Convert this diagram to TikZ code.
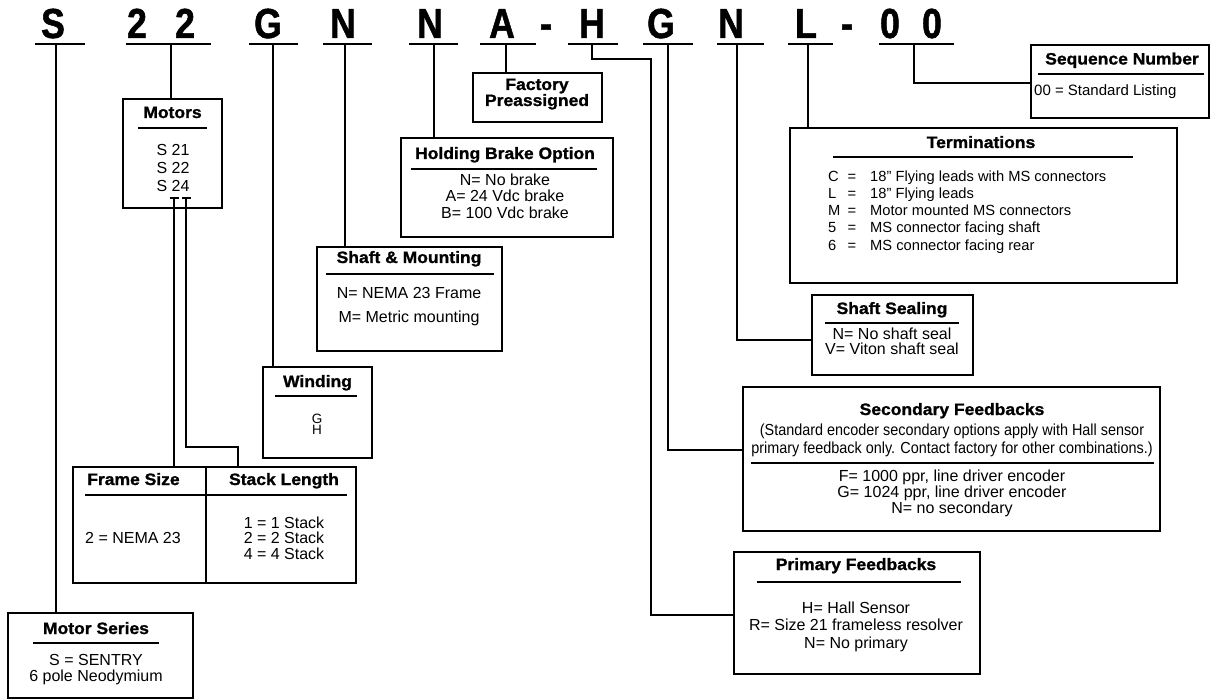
\documentclass[tikz,border=0pt]{standalone}
\usepackage{fontspec}
\setmainfont{Liberation Sans}
\newfontfamily\codefont[FakeStretch=0.85,FakeBold=1.2]{Liberation Sans}
\newfontfamily\headfont[FakeStretch=1.06,FakeBold=1.2]{Liberation Sans}
\newfontfamily\condfont[FakeStretch=0.9]{Liberation Sans}
\begin{document}
\begin{tikzpicture}[x=1pt,y=-1pt,
  box/.style={draw, line width=1.3pt, anchor=north west, inner sep=0pt, outer sep=0pt},
  code/.style={anchor=base, inner sep=0pt, font=\codefont\bfseries\fontsize{42}{42}\selectfont},
  head/.style={anchor=base, inner sep=0pt, font=\headfont\bfseries\fontsize{16.5}{17}\selectfont},
  body/.style={anchor=base, inner sep=0pt, font=\fontsize{16}{17}\selectfont},
  tbody/.style={anchor=base west, inner sep=0pt, font=\fontsize{14.7}{17}\selectfont},
  cond/.style={anchor=base, inner sep=0pt, font=\condfont\fontsize{16}{17}\selectfont},
  small/.style={anchor=base, inner sep=0pt, font=\fontsize{13.5}{13.5}\selectfont},
  uline/.style={line width=1.8pt},
  conn/.style={line width=1.2pt},
  rulel/.style={line width=1.4pt}
]
\fill[white] (0,0) rectangle (1217,700);
\useasboundingbox (0,0) rectangle (1217,700);

% ---------- code letters ----------
\node[code] (cS)  at (53,38)  {S};
\node[code] (c2a) at (137,38) {2};
\node[code] (c2b) at (185,38) {2};
\node[code] (cG)  at (268,38) {G};
\node[code] (cN)  at (343,38) {N};
\node[code] (cN2) at (430,38) {N};
\node[code] (cA)  at (502,38) {A};
\node[code] (cd1) at (546,38) {-};
\node[code] (cH)  at (592,38) {H};
\node[code] (cG2) at (661,38) {G};
\node[code] (cN3) at (731,38) {N};
\node[code] (cL)  at (806,38) {L};
\node[code] (cd2) at (847,38) {-};
\node[code] (c0a) at (890,38) {0};
\node[code] (c0b) at (932,38) {0};

% underlines
\draw[uline] (35,44) -- (85,44);
\draw[uline] (126,44) -- (211,44);
\draw[uline] (249,44) -- (298,44);
\draw[uline] (323,44) -- (372,44);
\draw[uline] (409,44) -- (458,44);
\draw[uline] (480,44) -- (536,44);
\draw[uline] (568,44) -- (618,44);
\draw[uline] (643,44) -- (693,44);
\draw[uline] (717,44) -- (764,44);
\draw[uline] (788,44) -- (833,44);
\draw[uline] (879,44) -- (954,44);

\coordinate (uS) at (56,44);
\coordinate (u22) at (171,44);
\coordinate (uG) at (273,44);
\coordinate (uN) at (345,44);
\coordinate (uN2) at (434,44);
\coordinate (uA) at (506,44);
\coordinate (uH) at (592,44);
\coordinate (uG2) at (668,44);
\coordinate (uN3) at (737,44);
\coordinate (uL) at (808,44);
\coordinate (u00) at (914,44);

% ---------- boxes ----------
\node[box, minimum width=99pt, minimum height=109pt] (motors) at (123,99) {};
\node[box, minimum width=129pt, minimum height=49pt] (factory) at (473,73) {};
\node[box, minimum width=212pt, minimum height=99pt] (holding) at (401,138) {};
\node[box, minimum width=185pt, minimum height=104pt] (shaftmt) at (317,247) {};
\node[box, minimum width=109pt, minimum height=91pt] (winding) at (263,367) {};
\node[box, minimum width=283pt, minimum height=116pt] (fs) at (73,467) {};
\node[box, minimum width=185pt, minimum height=85pt] (series) at (8,613) {};
\node[box, minimum width=178pt, minimum height=73pt] (seq) at (1031,45) {};
\node[box, minimum width=387pt, minimum height=155pt] (term) at (790,128) {};
\node[box, minimum width=161pt, minimum height=80pt] (seal) at (812,295) {};
\node[box, minimum width=417pt, minimum height=144pt] (sec) at (743,387) {};
\node[box, minimum width=246pt, minimum height=122pt] (prim) at (734,552) {};
\draw[line width=1.3pt] (fs.north west -| 206,0) -- (fs.south west -| 206,0);

% ---------- Motors ----------
\node[head] (tmot) at (172.5,118) {Motors};
\draw[rulel] (138,128) -- (207,128);
\node[body] (m1) at (173,155.5) {S 21};
\node[body] (m2) at (173,173.5) {S 22};
\node[body] (m3) at (173,192) {S 24};

% ---------- Factory ----------
\node[head] (tfac1) at (537,90) {Factory};
\node[head] (tfac2) at (537,106) {Preassigned};

% ---------- Holding brake ----------
\node[head] (thold) at (505,159) {Holding Brake Option};
\draw[rulel] (411,169) -- (597,169);
\node[body] (h1) at (505,185.5) {N= No brake};
\node[body] (h2) at (505,202) {A= 24 Vdc brake};
\node[body] (h3) at (505,218.5) {B= 100 Vdc brake};

% ---------- Shaft & Mounting ----------
\node[head] (tsm) at (409,263) {Shaft \& Mounting};
\draw[rulel] (326,274) -- (494,274);
\node[body] (sm1) at (409,299) {N= NEMA 23 Frame};
\node[body] (sm2) at (409,322.5) {M= Metric mounting};

% ---------- Winding ----------
\node[head] (twin) at (317.5,387) {Winding};
\draw[rulel] (275,396) -- (357,396);
\node[small] (wg) at (317,423) {G};
\node[small] (wh) at (317,434.5) {H};

% ---------- Frame / Stack ----------
\node[head] (tfr) at (133.5,485) {Frame Size};
\node[head] (tst) at (284,485) {Stack Length};
\draw[rulel] (85,495) -- (347,495);
\node[body, anchor=base west] (fr1) at (85,543.5) {2 = NEMA 23};
\node[body] (st1) at (284,528) {1 = 1 Stack};
\node[body] (st2) at (284,543.5) {2 = 2 Stack};
\node[body] (st3) at (284,559) {4 = 4 Stack};

% ---------- Motor series ----------
\node[head] (tser) at (96,634) {Motor Series};
\draw[rulel] (33,643) -- (159,643);
\node[body] (se1) at (96,665.5) {S = SENTRY};
\node[body] (se2) at (96,681) {6 pole Neodymium};

% ---------- Sequence ----------
\node[head] (tseq) at (1122,64.5) {Sequence Number};
\draw[rulel] (1038,74) -- (1204,74);
\node[anchor=base west, inner sep=0pt, font=\fontsize{15}{17}\selectfont] (sq1) at (1034,96) {00 = Standard Listing};

% ---------- Terminations ----------
\node[head] (tterm) at (981,148) {Terminations};
\draw[rulel] (833,157) -- (1133,157);
\foreach \l/\t/\y [count=\i] in {C/{18\char"201D\ Flying leads with MS connectors}/181.3,
                          L/{18\char"201D\ Flying leads}/199,
                          M/{Motor mounted MS connectors}/216,
                          5/{MS connector facing shaft}/233,
                          6/{MS connector facing rear}/251}{
  \node[tbody] (tl\i) at (828,\y) {\l};
  \node[tbody, anchor=base] (te\i) at (852,\y) {=};
  \node[tbody] (tt\i) at (870,\y) {\t};
}

% ---------- Shaft sealing ----------
\node[head] (tseal) at (892,314) {Shaft Sealing};
\draw[rulel] (825,323) -- (959,323);
\node[body] (sl1) at (892,339) {N= No shaft seal};
\node[body] (sl2) at (892,354) {V= Viton shaft seal};

% ---------- Secondary ----------
\node[head] (tsec) at (952,415) {Secondary Feedbacks};
\node[cond] (sn1) at (952,435) {(Standard encoder secondary options apply with Hall sensor};
\node[cond] (sn2) at (952,453) {primary feedback only. Contact factory for other combinations.)};
\draw[rulel] (751,463) -- (1154,463);
\node[body] (sc1) at (952,481) {F= 1000 ppr, line driver encoder};
\node[body] (sc2) at (952,497) {G= 1024 ppr, line driver encoder};
\node[body] (sc3) at (952,513) {N= no secondary};

% ---------- Primary ----------
\node[head] (tprim) at (856,570) {Primary Feedbacks};
\draw[rulel] (757,582) -- (961,582);
\node[body] (p1) at (856,613) {H= Hall Sensor};
\node[body] (p2) at (856,630) {R= Size 21 frameless resolver};
\node[body] (p3) at (856,648) {N= No primary};

% ---------- connectors ----------
\draw[conn] (uS) -- (uS |- series.north);
\draw[conn] (u22) -- (u22 |- motors.north);
\draw[conn] (uG) -- (uG |- winding.north);
\draw[conn] (uN) -- (uN |- shaftmt.north);
\draw[conn] (uN2) -- (uN2 |- holding.north);
\draw[conn] (uA) -- (uA |- factory.north);
\draw[conn] (uL) -- (uL |- term.north);

\coordinate (hb) at (651,59);
\coordinate (primin) at (734,615);
\draw[conn] (uH) -- (uH |- hb) -- (hb) -- (hb |- primin) -- (primin);

\coordinate (secin) at (743,450);
\draw[conn] (uG2) -- (uG2 |- secin) -- (secin);

\coordinate (sealin) at (812,340);
\draw[conn] (uN3) -- (uN3 |- sealin) -- (sealin);

\coordinate (seqin) at (1031,83);
\draw[conn] (u00) -- (u00 |- seqin) -- (seqin);

% Motors ticks to Frame / Stack box
\coordinate (tkL) at (174,198);
\coordinate (tkR) at (186,198);
\coordinate (bnd) at (238,447);
\draw[conn] (170,198) -- (179,198);
\draw[conn] (182,198) -- (191,198);
\draw[conn] (tkL) -- (tkL |- fs.north);
\draw[conn] (tkR) -- (tkR |- bnd) -- (bnd) -- (bnd |- fs.north);
\end{tikzpicture}
\end{document}
